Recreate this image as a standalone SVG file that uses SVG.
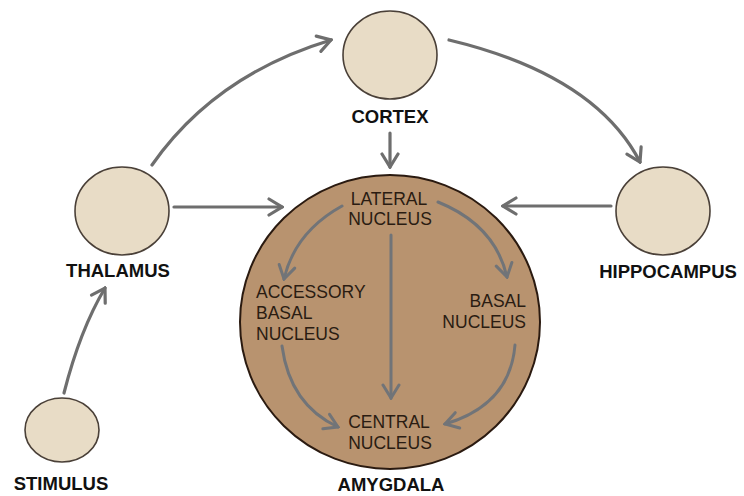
<svg xmlns="http://www.w3.org/2000/svg" width="744" height="496" viewBox="0 0 744 496">
<defs>
<style>
.node{fill:#e8dcc6;stroke:#4a4038;stroke-width:1.6}
.amyg{fill:#b8936f;stroke:#2a1a10;stroke-width:2}
.lbl{font-family:"Liberation Sans",Arial,sans-serif;font-weight:bold;font-size:18.5px;fill:#111;text-anchor:middle}
.in{font-family:"Liberation Sans",Arial,sans-serif;font-size:17.5px;fill:#2a1c12}
.c{fill:none;stroke:#6e6e6e;stroke-width:3.2;stroke-linecap:round}
.ci{fill:none;stroke:#717478;stroke-width:3;stroke-linecap:round}
</style>
<marker id="ah" markerUnits="userSpaceOnUse" viewBox="-16 -10 18 20" refX="0" refY="0" markerWidth="18" markerHeight="20" orient="auto">
<path d="M-13,-8 L0,0 L-13,8" fill="none" stroke="#6e6e6e" stroke-width="3.2" stroke-linecap="round" stroke-linejoin="miter"/>
</marker>
<marker id="ahi" markerUnits="userSpaceOnUse" viewBox="-16 -10 18 20" refX="0" refY="0" markerWidth="18" markerHeight="20" orient="auto">
<path d="M-13,-8 L0,0 L-13,8" fill="none" stroke="#717478" stroke-width="3" stroke-linecap="round" stroke-linejoin="miter"/>
</marker>
</defs>
<rect width="744" height="496" fill="#ffffff"/>
<g id="amygdala">
<ellipse class="amyg" cx="390" cy="322" rx="150" ry="147"/>
<text class="lbl" x="391" y="491">AMYGDALA</text>
</g>
<g id="lateral-nucleus">
<text class="in" text-anchor="middle" x="389" y="205">LATERAL</text>
<text class="in" text-anchor="middle" x="390" y="225">NUCLEUS</text>
</g>
<g id="accessory-basal-nucleus">
<text class="in" x="256" y="298">ACCESSORY</text>
<text class="in" x="256" y="319">BASAL</text>
<text class="in" x="256" y="340">NUCLEUS</text>
</g>
<g id="basal-nucleus">
<text class="in" text-anchor="end" x="526" y="307">BASAL</text>
<text class="in" text-anchor="end" x="526" y="328">NUCLEUS</text>
</g>
<g id="central-nucleus">
<text class="in" text-anchor="middle" x="389" y="428">CENTRAL</text>
<text class="in" text-anchor="middle" x="390" y="449">NUCLEUS</text>
</g>
<g id="cortex">
<ellipse class="node" cx="390" cy="55" rx="47" ry="44"/>
<text class="lbl" x="390" y="123">CORTEX</text>
</g>
<g id="thalamus">
<ellipse class="node" cx="122" cy="211" rx="47" ry="44"/>
<text class="lbl" x="118" y="277">THALAMUS</text>
</g>
<g id="hippocampus">
<ellipse class="node" cx="663" cy="211" rx="47" ry="44"/>
<text class="lbl" x="668" y="278">HIPPOCAMPUS</text>
</g>
<g id="stimulus">
<ellipse class="node" cx="62" cy="430" rx="37" ry="32"/>
<text class="lbl" x="61" y="490">STIMULUS</text>
</g>
<g id="connectors">
<path class="c" d="M152,165 Q215,75 331,40" marker-end="url(#ah)"/>
<path class="c" d="M449,40 Q595,75 640,162" marker-end="url(#ah)"/>
<path class="c" d="M390,133 L390,167" marker-end="url(#ah)"/>
<path class="c" d="M174,207 L282,207" marker-end="url(#ah)"/>
<path class="c" d="M611,206 L503,206" marker-end="url(#ah)"/>
<path class="c" d="M64,393 Q80,330 105,288" marker-end="url(#ah)"/>
<path class="ci" d="M342,206 Q295,232 284,279" marker-end="url(#ahi)"/>
<path class="ci" d="M438,202 Q495,225 507,277" marker-end="url(#ahi)"/>
<path class="ci" d="M391,235 L391,398" marker-end="url(#ahi)"/>
<path class="ci" d="M282,346 Q290,405 338,427" marker-end="url(#ahi)"/>
<path class="ci" d="M515,345 Q510,405 445,424" marker-end="url(#ahi)"/>
</g>
</svg>
